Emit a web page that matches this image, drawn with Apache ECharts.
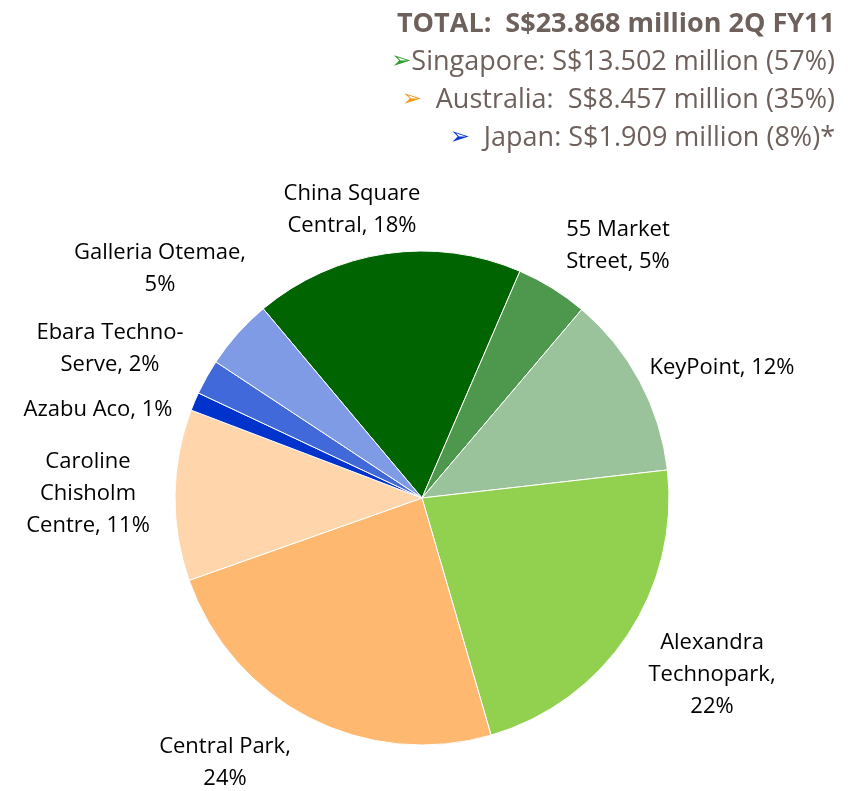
<!DOCTYPE html>
<html><head><meta charset="utf-8">
<script src="https://cdn.jsdelivr.net/npm/echarts@6/dist/echarts.min.js"></script>
<style>html,body{margin:0;padding:0;background:#fff}#c{width:860px;height:791px}</style>
</head><body><div id="c"></div>
<script>
var names = ['China Square Central', '55 Market Street', 'KeyPoint', 'Alexandra Technopark', 'Central Park', 'Caroline Chisholm Centre', 'Azabu Aco', 'Ebara Techno-Serve', 'Galleria Otemae'];
var labelTexts = ['China Square\nCentral, 18%', '55 Market\nStreet, 5%', 'KeyPoint, 12%', 'Alexandra\nTechnopark,\n22%', 'Central Park,\n24%', 'Caroline\nChisholm\nCentre, 11%', 'Azabu Aco, 1%', 'Ebara Techno-\nServe, 2%', 'Galleria Otemae,\n5%'];
var values = [17.6, 4.7, 12.0, 22.3, 24.1, 11.2, 1.2, 2.3, 4.6];
var colors = ['#006400', '#4e984e', '#9bc39b', '#92d050', '#ffb870', '#ffd5ab', '#0033cc', '#4169d9', '#7f9be6'];
var headerLines = ['TOTAL:  S$23.868 million 2Q FY11', 'Singapore: S$13.502 million (57%)', '  Australia:  S$8.457 million (35%)', '  Japan: S$1.909 million (8%)*'];

// label centre positions (layout only)
var labelPos = [[352, 210], [618, 246], [722, 368], [712, 675], [225, 763], [88, 494], [98, 410], [110, 349], [160, 269]];

var chart = echarts.init(document.getElementById('c'));
var font = '"Open Sans", "DejaVu Sans", sans-serif';
chart.setOption({
  animation: false,
  title: {
    right: 20, top: 0,
    text: '{t|' + headerLines[0] + '}\n{ag|➢}{s|' + headerLines[1] + '}\n{ao|➢}{s|' + headerLines[2] + '}\n{ab|➢}{s|' + headerLines[3] + '}',
    textStyle: {
      align: 'right', fontWeight: 'normal',
      rich: {
        t: {fontSize: 27, fontWeight: 'bold', color: '#6e605b', fontFamily: font, lineHeight: 38, align: 'right'},
        s: {fontSize: 27, fontWeight: 'normal', color: '#6e605b', fontFamily: font, lineHeight: 38, align: 'right'},
        ag: {fontSize: 24, color: '#2e9e2e', fontFamily: '"DejaVu Sans"', lineHeight: 38, align: 'right'},
        ao: {fontSize: 24, color: '#f7981d', fontFamily: '"DejaVu Sans"', lineHeight: 38, align: 'right'},
        ab: {fontSize: 24, color: '#0b3cd6', fontFamily: '"DejaVu Sans"', lineHeight: 38, align: 'right'}
      }
    }
  },
  series: [{
    type: 'pie',
    center: [422, 498],
    radius: 247,
    startAngle: 130,
    clockwise: true,
    itemStyle: {borderColor: '#ffffff', borderWidth: 1},
    label: {
      show: true, position: 'outside', color: '#000', fontSize: 22, lineHeight: 32,
      fontFamily: font, align: 'center', overflow: 'none', width: 300,
      formatter: function (p) { return labelTexts[p.dataIndex]; }
    },
    labelLine: {show: false},
    labelLayout: function (p) {
      var pos = labelPos[p.dataIndex];
      return {x: pos[0], y: pos[1], align: 'center', verticalAlign: 'middle', hideOverlap: false, moveOverlap: null};
    },
    data: names.map(function (n, i) { return {name: n, value: values[i], itemStyle: {color: colors[i]}}; })
  }]
});
</script></body></html>
